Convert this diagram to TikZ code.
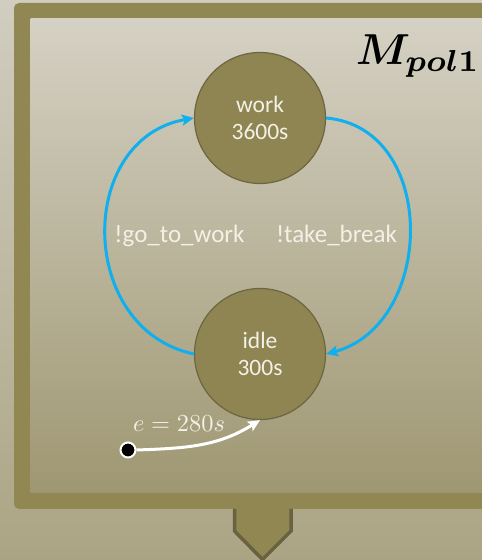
\documentclass[tikz,border=0pt]{standalone}
\usepackage{amsmath,bm}
\usepackage{fontspec}
\newfontfamily\carlito{Carlito}
\usetikzlibrary{arrows.meta}
\definecolor{framecol}{RGB}{145,135,83}
\definecolor{circfill}{RGB}{142,133,82}
\definecolor{circline}{RGB}{110,101,65}
\definecolor{arrline}{RGB}{106,97,64}
\definecolor{flowblue}{RGB}{16,175,238}
\definecolor{txtcol}{RGB}{243,240,230}
\definecolor{bgtop}{RGB}{209,205,192}
\definecolor{bgbot}{RGB}{171,164,132}
\definecolor{intop}{RGB}{213,209,196}
\definecolor{inbot}{RGB}{159,151,114}
\begin{document}
\begin{tikzpicture}[x=1bp,y=1bp,
  state/.style={circle, minimum size=131bp, inner sep=0pt, fill=circfill,
    draw=circline, line width=1.2bp, text=txtcol, align=center,
    font=\carlito\fontsize{23.5bp}{27bp}\selectfont},
  lbl/.style={text=txtcol, inner sep=0pt, anchor=base,
    font=\carlito\fontsize{25bp}{28bp}\selectfont},
  flow/.style={draw=flowblue, line width=3bp,
    -{Stealth[length=12bp,width=11bp,inset=2.5bp]}},
  initarr/.style={draw=white, line width=3bp,
    -{Stealth[length=12bp,width=11bp,inset=2.5bp]}}]
\useasboundingbox (0,0) rectangle (482,560);
\clip (0,0) rectangle (482,560);
% background
\shade[top color=bgtop, bottom color=bgbot] (0,0) rectangle (482,560);
% frame
\fill[framecol, rounded corners=5bp] (14,51) rectangle (520,557);
\shade[top color=intop, bottom color=inbot] (30.7,67) rectangle (520,541.4);
% bottom output arrow
\fill[framecol] (234.5,52) -- (234.5,29) -- (262.5,0.5) -- (291,29) -- (291,52) -- cycle;
\draw[arrline, line width=3.5bp, line join=miter] (234.5,51) -- (234.5,29) -- (262.5,0.5) -- (291,29) -- (291,51);
% title
\node[anchor=base west, inner sep=0pt, scale=4.35] (title) at (355,495) {$\bm{M_{pol1}}$};
% states
\node[state] (work) at (260,442) {work\\3600s};
\node[state] (idle) at (260,206) {idle\\300s};
% transitions
\draw[flow] (idle.west) to[out=168, in=190, looseness=1.30] (work.west);
\draw[flow] (work.east) to[out=-5, in=15, looseness=1.23] (idle.east);
\node[lbl] (lgo) at (179.5,317) {!go\_to\_work};
\node[lbl] (ltb) at (336.5,317) {!take\_break};
% initial
\node[circle, fill=black, draw=white, line width=2bp, minimum size=15bp, inner sep=0pt] (start) at (128,110) {};
\draw[initarr] (start.east) to[out=2, in=212] (idle.south);
\node[anchor=base, inner sep=0pt, text=txtcol, scale=2.45] (elab) at (179,128) {$e = 280s$};
\end{tikzpicture}
\end{document}
